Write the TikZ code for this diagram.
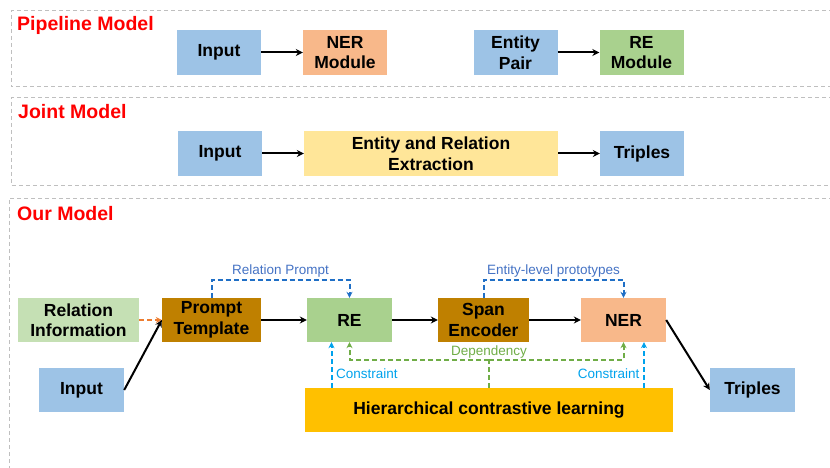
\documentclass[tikz,border=0pt]{standalone}
\usepackage{fontspec}
\setmainfont{Liberation Sans}
\usetikzlibrary{arrows.meta,calc}
\definecolor{boxblue}{HTML}{9DC3E6}
\definecolor{boxorange}{HTML}{F8B88A}
\definecolor{boxgreen}{HTML}{A9D18E}
\definecolor{boxlgreen}{HTML}{C5E0B4}
\definecolor{boxbrown}{HTML}{BF8000}
\definecolor{boxyellow}{HTML}{FFE699}
\definecolor{boxgold}{HTML}{FFC000}
\definecolor{promptblue}{HTML}{1F6FC6}
\definecolor{labelblue}{HTML}{4472C4}
\definecolor{conblue}{HTML}{00A2EC}
\definecolor{depgreen}{HTML}{70AD47}
\definecolor{riorange}{HTML}{ED7D31}
\tikzstyle{block}=[rectangle, inner sep=0pt, minimum height=45pt, minimum width=84pt, align=center, font=\fontsize{17.5}{20.5}\selectfont\bfseries]
\tikzstyle{title}=[anchor=west, inner sep=0pt, text=red, font=\fontsize{19.5}{22}\selectfont\bfseries]
\tikzstyle{panel}=[draw=black!25, line width=1pt, dash pattern=on 4pt off 3pt]
\tikzstyle{flow}=[-{Stealth[length=7pt,width=7pt]}, line width=2pt]
\tikzstyle{hint}=[line width=2pt, dash pattern=on 5pt off 3pt, -{Stealth[length=6pt,width=6pt]}]
\tikzstyle{tag}=[inner sep=1.5pt, font=\fontsize{13.5}{15}\selectfont]

\begin{document}
\begin{tikzpicture}[x=1pt, y=-1pt]
    \useasboundingbox (0,0) rectangle (830,468);
    \clip (0,0) rectangle (830,468);
    % panels
    \draw[panel] (840,11) -- (11,11) -- (11,87) -- (840,87);
    \draw[panel] (840,98) -- (11,98) -- (11,185) -- (840,185);
    \draw[panel] (840,198) -- (9,198) -- (9,480);
    \node[title] (t1) at (17,25)  {Pipeline Model};
    \node[title] (t2) at (18,112) {Joint Model};
    \node[title] (t3) at (17,214) {Our Model};

    % pipeline model
    \node[block, fill=boxblue]   (in1)  at (219,  52.5) {Input};
    \node[block, fill=boxorange] (ner1) at (345,  52.5) {NER\\Module};
    \node[block, fill=boxblue]   (pair) at (515.5,52.5) {Entity\\Pair};
    \node[block, fill=boxgreen]  (re1)  at (641.5,52.5) {RE\\Module};
    \draw[flow] (in1)  -- (ner1);
    \draw[flow] (pair) -- (re1);

    % joint model
    \node[block, fill=boxblue]   (in2)  at (220,153.5) {Input};
    \node[block, fill=boxyellow, minimum width=254pt] (ere) at (431,153.5) {Entity and Relation\\Extraction};
    \node[block, fill=boxblue]   (tri2) at (642,153.5) {Triples};
    \draw[flow] (in2) -- (ere);
    \draw[flow] (ere) -- (tri2);

    % our model
    \node[block, fill=boxlgreen, minimum width=121pt, minimum height=44pt] (info)   at (78.5,320) {Relation\\Information};
    \node[block, fill=boxblue,   minimum width=85pt,  minimum height=44pt] (in3)    at (81.5,390) {Input};
    \node[block, fill=boxbrown,  minimum width=99pt,  minimum height=44pt] (prompt) at (211.5,320) {Prompt\\Template};
    \node[block, fill=boxgreen,  minimum width=85pt,  minimum height=44pt] (re)     at (349.5,320) {RE};
    \node[block, fill=boxbrown,  minimum width=91pt,  minimum height=44pt] (span)   at (483.5,320) {Span\\Encoder};
    \node[block, fill=boxorange, minimum width=85pt,  minimum height=44pt] (ner)    at (623.5,320) {NER};
    \node[block, fill=boxblue,   minimum width=85pt,  minimum height=44pt] (tri3)   at (752.5,390) {Triples};
    \node[block, fill=boxgold,   minimum width=368pt, minimum height=44pt] (hcl)    at (489,410) {Hierarchical contrastive learning};

    \draw[hint, riorange] (info) -- (prompt);
    \draw[flow] (in3.east) -- (prompt.west);
    \draw[flow] (prompt) -- (re);
    \draw[flow] (re) -- (span);
    \draw[flow] (span) -- (ner);
    \draw[flow] (ner.east) -- (tri3.west);

    \draw[hint, promptblue] (prompt.north) -- ++(0,-18) -| (re.north)
        node[tag, text=labelblue, pos=0.25, above] {Relation Prompt};
    \draw[hint, promptblue] (span.north) -- ++(0,-18) -| (ner.north)
        node[tag, text=labelblue, pos=0.25, above] {Entity-level prototypes};

    \draw[hint, conblue] ($(hcl.north -| re.south)+(-18,0)$) -- ($(re.south)+(-18,0)$)
        node[tag, text=conblue, pos=0.3, right=2pt] {Constraint};
    \draw[hint, conblue] ($(hcl.north -| ner.south)+(20.5,0)$) -- ($(ner.south)+(20.5,0)$)
        node[tag, text=conblue, pos=0.3, left=2pt] {Constraint};

    \draw[hint, depgreen, -] (hcl.north) -- ++(0,-28) coordinate (dj);
    \draw[hint, depgreen] (dj) -| (re.south);
    \draw[hint, depgreen] (dj) -| (ner.south);
    \node[tag, text=depgreen, above=0pt] (deplab) at (dj) {Dependency};
\end{tikzpicture}
\end{document}
